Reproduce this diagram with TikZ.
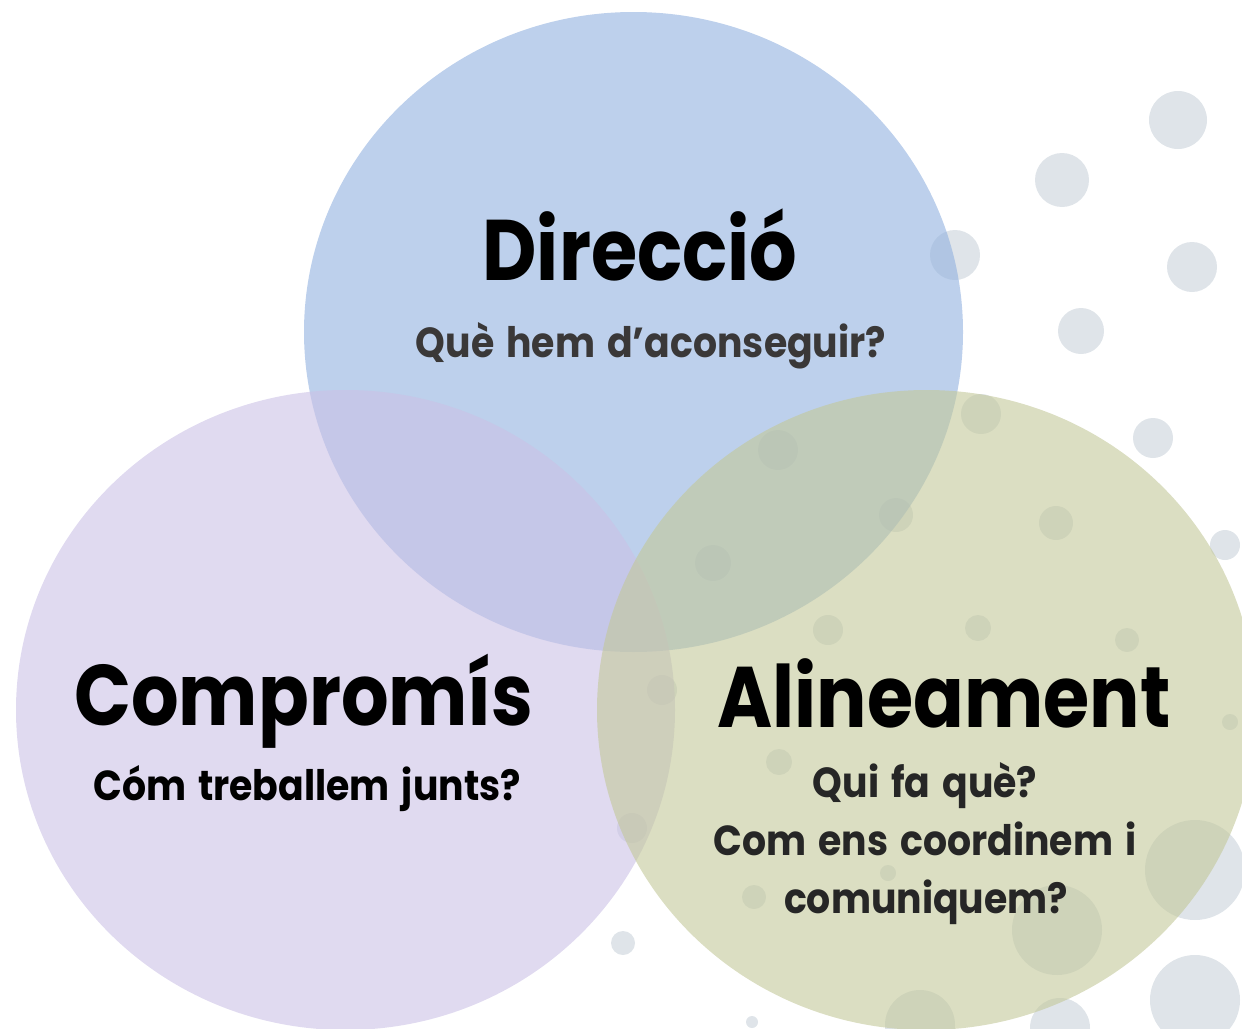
\documentclass[tikz,border=0pt]{standalone}
\usepackage{fontspec}
\usepackage{graphicx}
\setmainfont{Poppins}[WordSpace=1.5]
\usetikzlibrary{positioning,shapes.geometric}

\definecolor{dirblue}{RGB}{145,177,223}
\definecolor{compurple}{RGB}{203,193,230}
\definecolor{aligreen}{RGB}{195,200,153}
\definecolor{dotgrey}{RGB}{223,228,233}
\definecolor{subgrey}{RGB}{58,56,56}
\definecolor{subdark}{RGB}{38,38,38}

% amplada ajustada del text
\newcommand{\narrowT}[1]{\scalebox{0.87}[1]{#1}}
\newcommand{\narrowQ}[1]{\scalebox{0.90}[1]{#1}}

\tikzset{
  bubble/.style={ellipse, inner sep=0pt, minimum width=329.5pt,
    minimum height=320pt, fill opacity=0.6},
  title/.style={anchor=base, font=\bfseries\fontsize{43}{50}\selectfont},
  question/.style={anchor=base, font=\bfseries\fontsize{21}{25}\selectfont},
}

\begin{document}
\begin{tikzpicture}[x=0.5pt,y=-0.5pt]
\useasboundingbox (0,0) rectangle (1242,1028);
\clip (0,0) rectangle (1242,1028);

% Punts de fons
\foreach \px/\py/\r in {1178/120/29, 1062/180/27, 955/255/25, 1192/267/25,
    1081/331/23, 1153/438/20, 981/414/20, 1056/523/17, 1225/545/15,
    896/515/17, 778/450/20, 828/630/15, 978/628/13, 1127/640/12,
    713/563/18, 662/690/15, 779/762/13, 1230/722/8, 888/873/8,
    754/897/12, 623/943/12, 632/828/15, 1195/870/50, 1057/930/45,
    1195/1000/45, 920/1025/35, 752/1022/6, 1060/1028/30}
  \fill[dotgrey] (\px,\py) circle (\r);

% Els tres cercles
\node[bubble, fill=dirblue] (dir) at (633.5,332) {};
\node[bubble, fill=compurple] (comp) at (345.5,710) {};
\node[bubble, fill=aligreen] (ali) at (926.5,710) {};

% Textos
\node[title] (dirT) at (640,280) {\narrowT{Direcció}};
\node[question, text=subgrey] (dirQ) at (651,357) {\narrowQ{Què hem d’aconseguir?}};

\node[title] (compT) at (304,725) {\narrowT{Compromís}};
\node[question] (compQ) at (307,800) {\narrowQ{Cóm treballem junts?}};

\node[title] (aliT) at (944,727) {\narrowT{Alineament}};
\node[question, text=subdark] (aliQa) at (925,797) {\narrowQ{Qui fa què?}};
\node[question, text=subdark] (aliQb) at (925,855) {\narrowQ{Com ens coordinem i}};
\node[question, text=subdark] (aliQc) at (926,913) {\narrowQ{comuniquem?}};
\end{tikzpicture}
\end{document}
